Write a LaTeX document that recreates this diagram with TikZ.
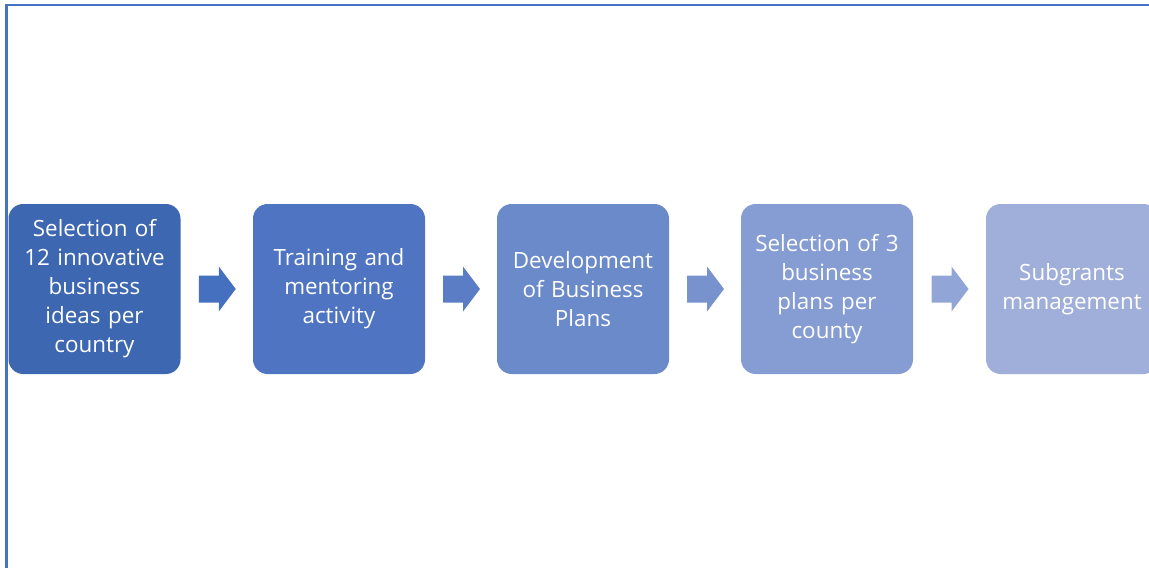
\documentclass[tikz,border=0pt]{standalone}
\usepackage{fontspec}
\setmainfont{Open Sans}
\usetikzlibrary{calc}

\definecolor{frameblue}{HTML}{4472C4}
\definecolor{stepA}{HTML}{3D67B1}
\definecolor{stepB}{HTML}{4F74C1}
\definecolor{stepC}{HTML}{6B8ACA}
\definecolor{stepD}{HTML}{859DD2}
\definecolor{stepE}{HTML}{A0AFD9}
\definecolor{arrA}{HTML}{4470BF}
\definecolor{arrB}{HTML}{5B7DC5}
\definecolor{arrC}{HTML}{7892CE}
\definecolor{arrD}{HTML}{91A6D6}

\begin{document}
\begin{tikzpicture}[x=0.75pt, y=-0.75pt,
  stepbox/.style={rounded corners=11pt, minimum width=129pt, minimum height=127.5pt,
    text width=128pt, align=center, text=white, inner sep=0pt,
    font=\fontsize{16.8}{21.75}\selectfont}]

\useasboundingbox (0,0) rectangle (1149,568);

% frame
\draw[frameblue, line width=1.6pt] (6.5,568) -- (6.5,5) -- (1149,5);

% steps
\node[stepbox, fill=stepA] (sel) at (94.5,289) {Selection of\\12 innovative\\business\\ideas per\\country};
\node[stepbox, fill=stepB] (train) at (339,289) {Training and\\mentoring\\activity};
\node[stepbox, fill=stepC] (dev) at (583,289) {Development\\of Business\\Plans};
\node[stepbox, fill=stepD] (plans) at (827,289) {Selection of 3\\business\\plans per\\county};
\node[stepbox, fill=stepE] (sub) at (1072,289) {Subgrants\\management};

% block arrows
\foreach \a/\b/\c in {sel/train/arrA, train/dev/arrB, dev/plans/arrC, plans/sub/arrD}{
  \coordinate (m) at ($(\a.east)!0.5!(\b.west)$);
  \fill[\c] (m) ++(-18,-13.5) -- ++(20,0) -- ++(0,-9) -- ++(17,22.5)
    -- ++(-17,22.5) -- ++(0,-9) -- ++(-20,0) -- cycle;
}

\end{tikzpicture}
\end{document}
